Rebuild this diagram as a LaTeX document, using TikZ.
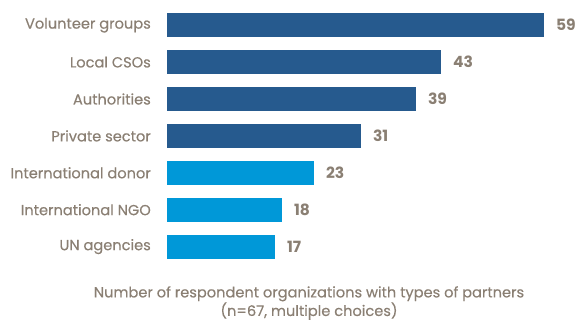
\documentclass[tikz,border=0pt]{standalone}
\usepackage{fontspec}
\setmainfont{Poppins}
\newfontfamily\labfont{Poppins}[FakeBold=0.35]
\definecolor{txt}{HTML}{8A7F73}
\definecolor{dblue}{HTML}{265A8E}
\definecolor{lblue}{HTML}{0098D8}
\tikzset{
  bar/.style={draw=none, inner sep=0pt, minimum height=24pt, anchor=north west},
  cat/.style={text=txt, font=\labfont\fontsize{14.6}{16}\selectfont, anchor=east, inner sep=0pt},
  val/.style={text=txt, font=\fontsize{15.5}{16}\selectfont\bfseries, anchor=west, inner sep=0pt},
  ttl/.style={text=txt, font=\labfont\fontsize{14.6}{16.5}\selectfont, align=center, inner sep=0pt}
}
\begin{document}
\begin{tikzpicture}[x=1pt,y=-1pt]
\useasboundingbox (0,0) rectangle (577,320);
\foreach \i/\name/\v/\e/\c in {0/Volunteer groups/59/544/dblue,1/Local CSOs/43/441/dblue,2/Authorities/39/416/dblue,3/Private sector/31/361/dblue,4/International donor/23/314/lblue,5/International NGO/18/282/lblue,6/UN agencies/17/275/lblue}{
  \pgfmathsetmacro{\yy}{13+36.9*\i}
  \pgfmathsetmacro{\ww}{\e-167}
  \node[bar, fill=\c, minimum width=\ww pt] (b\i) at (167,\yy) {};
  \node[cat] (l\i) at ([xshift=-16pt]b\i.west) {\name};
  \node[val] (v\i) at ([xshift=11.5pt]b\i.east) {\v};
}
\node[ttl] (t) at (309,303) {Number of respondent organizations with types of partners\\(n=67, multiple choices)};
\end{tikzpicture}
\end{document}
